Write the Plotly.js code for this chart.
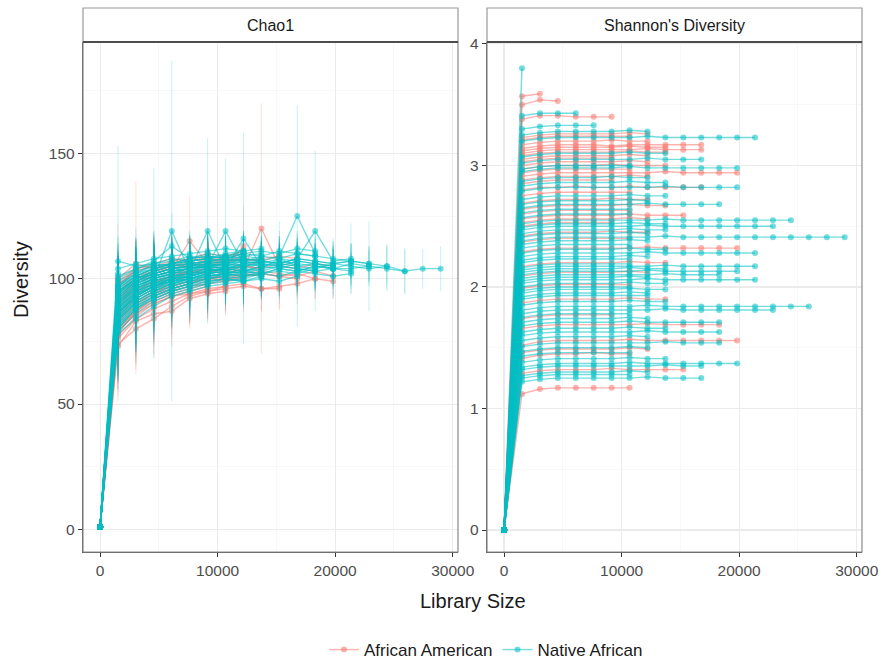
<!DOCTYPE html>
<html><head><meta charset="utf-8">
<script src="https://cdn.plot.ly/plotly-3.0.1.min.js"></script>
<style>html,body{margin:0;padding:0;background:#fff}#chart{width:882px;height:661px}</style>
</head><body><div id="chart"></div>
<script>
// Rarefaction depths (library size)
const depths = [1, 1526, 3051, 4576, 6101, 7626, 9151, 10676, 12201, 13726, 15251, 16776, 18301, 19826, 21351, 22876, 24401, 25926, 27451, 28976];
const shannonAtDepth1 = 0;
const chao1AtDepth1 = 1;
const groupNames = ['African American', 'Native African'];
const panelTitles = ['Chao1', "Shannon's Diversity"];

// 0 = African American, 1 = Native African
const sampleGroup = [
  0,0,0,0,0,0,0,0,0,0,0,0,0,0,0,0,0,0,0,0,
  0,0,0,0,0,0,0,0,0,0,0,0,0,0,0,0,0,0,0,0,
  1,1,1,1,1,1,1,1,1,1,1,1,1,1,1,1,1,1,1,1,
  1,1,1,1,1,1,1,1,1,1,1,1,1,1,1,1,1,1,1,1,
  1,1,1,1,1,1,1,1,1,1,1,1,1,1,1,1,1,1,1
];

const shannon = [
  [3.57,3.59],
  [3.50,3.54,3.53],
  [3.38,3.41,3.41,3.40,3.40,3.40],
  [3.14,3.16,3.17,3.17,3.17,3.16,3.17,3.17,3.17,3.17,3.17],
  [3.10,3.12,3.13,3.13,3.13,3.13,3.13,3.14,3.13,3.13,3.13],
  [2.91,2.93,2.94,2.94,2.94,2.94,2.94,2.94,2.95,2.94,2.94,2.94,2.94],
  [2.80,2.82,2.82,2.83,2.82,2.82,2.83,2.82,2.82,2.82,2.82],
  [3.05,3.07,3.08,3.08,3.08,3.08,3.09,3.08],
  [2.97,2.99,3.00,3.00,3.00,3.01,3.00,3.00,3.00],
  [2.56,2.58,2.59,2.59,2.59,2.59,2.60,2.59,2.59,2.59],
  [2.29,2.31,2.32,2.32,2.32,2.32,2.32,2.33,2.32,2.32,2.32,2.32,2.32],
  [2.42,2.44,2.45,2.45,2.45,2.46,2.45,2.45],
  [2.17,2.19,2.20,2.20,2.20,2.20,2.21,2.20,2.20],
  [1.99,2.01,2.02,2.02,2.02,2.02,2.02],
  [1.66,1.68,1.69,1.69,1.69,1.69,1.69,1.70,1.69,1.69,1.69,1.69],
  [1.52,1.55,1.56,1.56,1.56,1.56,1.57,1.56,1.56,1.56,1.56,1.56,1.56],
  [1.41,1.44,1.45,1.45,1.46,1.45,1.45],
  [1.29,1.31,1.32,1.32,1.32,1.33,1.32,1.32,1.32,1.32],
  [1.12,1.16,1.17,1.17,1.17,1.17,1.17],
  [2.69,2.71,2.72,2.72,2.72,2.73,2.72,2.72],
  [2.85,2.87,2.88,2.88,2.88,2.88],
  [1.87,1.89,1.90,1.90,1.90,1.90,1.91,1.90,1.90],
  [3.17,3.19,3.20,3.20,3.20,3.21,3.20,3.20],
  [2.60,2.62,2.63,2.63,2.63,2.63,2.63],
  [3.00,3.02,3.03,3.03,3.03,3.03,3.04,3.03],
  [2.94,2.96,2.97,2.97,2.97,2.97,2.97],
  [3.08,3.10,3.11,3.11,3.11,3.11,3.12,3.11,3.11],
  [2.50,2.52,2.53,2.53,2.53,2.53],
  [3.23,3.25,3.26,3.26,3.26,3.26,3.27,3.26],
  [3.21,3.23,3.24,3.24,3.24,3.24,3.24],
  [3.12,3.14,3.15,3.15,3.15,3.15,3.16,3.15,3.15],
  [3.03,3.05,3.06,3.06,3.06,3.06],
  [2.88,2.90,2.91,2.91,2.91,2.91,2.92,2.91],
  [2.75,2.77,2.78,2.78,2.78,2.78,2.78],
  [2.64,2.66,2.67,2.67,2.67,2.67,2.68,2.67,2.67],
  [2.53,2.55,2.56,2.56,2.56,2.56,2.57,2.56],
  [2.37,2.39,2.40,2.40,2.40,2.40,2.40],
  [2.09,2.11,2.12,2.12,2.12,2.12,2.13,2.12],
  [1.74,1.76,1.77,1.77,1.77,1.77],
  [1.46,1.48,1.49,1.49,1.49,1.49,1.50,1.49],
  // Native African
  [3.80],
  [3.41,3.43,3.43,3.43],
  [3.30,3.32,3.33,3.33,3.33],
  [3.20,3.22,3.23,3.23,3.23,3.23,3.23,3.24,3.23,3.23,3.23,3.23,3.23,3.23],
  [3.02,3.04,3.05,3.05,3.05,3.05,3.05,3.06,3.05,3.05,3.05],
  [2.95,2.97,2.98,2.98,2.98,2.98,2.99,2.98,2.98,2.98,2.98,2.98,2.98],
  [2.79,2.81,2.82,2.82,2.82,2.82,2.82,2.82,2.83,2.82,2.82,2.82,2.82],
  [2.65,2.67,2.68,2.68,2.68,2.68,2.68,2.69,2.68,2.68,2.68,2.68],
  [2.52,2.54,2.55,2.55,2.55,2.55,2.55,2.55,2.56,2.55,2.55,2.55,2.55,2.55,2.55,2.55],
  [2.47,2.49,2.50,2.50,2.50,2.50,2.50,2.51,2.50,2.50,2.50,2.50,2.50,2.50,2.50],
  [2.38,2.40,2.41,2.41,2.41,2.41,2.41,2.41,2.42,2.41,2.41,2.41,2.41,2.41,2.41,2.41,2.41,2.41,2.41],
  [2.25,2.27,2.28,2.28,2.28,2.28,2.28,2.29,2.28,2.28,2.28,2.28,2.28,2.28],
  [2.14,2.16,2.17,2.17,2.17,2.17,2.17,2.17,2.18,2.17,2.17,2.17,2.17,2.17],
  [2.10,2.12,2.13,2.13,2.13,2.13,2.13,2.14,2.13,2.13,2.13,2.13,2.13],
  [2.07,2.09,2.10,2.10,2.10,2.10,2.10,2.10,2.11,2.10,2.10,2.10],
  [2.03,2.05,2.06,2.06,2.06,2.06,2.06,2.07,2.06,2.06,2.06,2.06,2.06,2.06],
  [1.81,1.83,1.84,1.84,1.84,1.84,1.84,1.85,1.84,1.84,1.84,1.84,1.84,1.84,1.84,1.84,1.84],
  [1.78,1.80,1.81,1.81,1.81,1.81,1.81,1.81,1.82,1.81,1.81,1.81,1.81,1.81,1.81],
  [1.68,1.70,1.71,1.71,1.71,1.71,1.72,1.71,1.71,1.71,1.71,1.71],
  [1.60,1.62,1.63,1.63,1.63,1.63,1.63,1.64,1.63,1.63,1.63,1.63],
  [1.51,1.53,1.54,1.54,1.54,1.54,1.54,1.54,1.55,1.54,1.54,1.54],
  [1.34,1.36,1.37,1.37,1.37,1.37,1.38,1.37,1.37,1.37,1.37,1.37,1.37],
  [1.32,1.34,1.35,1.35,1.35,1.35,1.35,1.35,1.36,1.35,1.35],
  [1.22,1.24,1.25,1.25,1.25,1.25,1.25,1.26,1.25,1.25,1.25],
  [2.87,2.89,2.90,2.90,2.90,2.91,2.90,2.90],
  [2.72,2.74,2.75,2.75,2.75,2.75,2.76,2.75,2.75],
  [2.35,2.37,2.38,2.38,2.38,2.38,2.39,2.38],
  [1.95,1.97,1.98,1.98,1.98,1.98,1.99,1.98,1.98],
  [2.32,2.34,2.35,2.35,2.35,2.35,2.35],
  [1.90,1.92,1.93,1.93,1.93,1.93,1.93,1.93],
  [3.07,3.09,3.10,3.10,3.10,3.10,3.11,3.10,3.10],
  [2.57,2.59,2.60,2.60,2.60,2.60,2.60],
  [1.47,1.49,1.50,1.50,1.50,1.50,1.51,1.50],
  [2.44,2.46,2.47,2.47,2.47,2.47,2.48,2.47,2.47],
  [2.20,2.22,2.23,2.23,2.23,2.23,2.23],
  [3.25,3.27,3.28,3.28,3.28,3.28,3.29,3.28],
  [2.97,2.99,3.00,3.00,3.00,3.00,3.00],
  [2.83,2.85,2.86,2.86,2.86,2.86,2.87,2.86,2.86],
  [2.68,2.70,2.71,2.71,2.71,2.71,2.72,2.71],
  [2.61,2.63,2.64,2.64,2.64,2.64,2.64],
  [2.49,2.51,2.52,2.52,2.52,2.52,2.53,2.52,2.52],
  [2.41,2.43,2.44,2.44,2.44,2.44,2.45,2.44],
  [2.28,2.30,2.31,2.31,2.31,2.31,2.32,2.31,2.31],
  [2.22,2.24,2.25,2.25,2.25,2.25,2.26,2.25],
  [2.16,2.18,2.19,2.19,2.19,2.19,2.19],
  [2.12,2.14,2.15,2.15,2.15,2.15,2.16,2.15,2.15],
  [2.05,2.07,2.08,2.08,2.08,2.08,2.09,2.08],
  [2.00,2.02,2.03,2.03,2.03,2.03,2.04,2.03,2.03],
  [1.97,1.99,2.00,2.00,2.00,2.00,2.00],
  [1.92,1.94,1.95,1.95,1.95,1.95,1.96,1.95],
  [1.85,1.87,1.88,1.88,1.88,1.88,1.89,1.88,1.88],
  [1.75,1.77,1.78,1.78,1.78,1.78,1.78],
  [1.71,1.73,1.74,1.74,1.74,1.74,1.75,1.74],
  [1.63,1.65,1.66,1.66,1.66,1.66,1.67,1.66,1.66],
  [1.56,1.58,1.59,1.59,1.59,1.59,1.60,1.59],
  [1.43,1.45,1.46,1.46,1.46,1.46,1.46],
  [1.38,1.40,1.41,1.41,1.41,1.41,1.42,1.41,1.41],
  [1.27,1.29,1.30,1.30,1.30,1.30,1.31,1.30],
  [1.25,1.27,1.28,1.28,1.28,1.28,1.28]
];

const chao1 = [
  [98,103],
  [92,99,101],
  [100,106,104,106,105,107],
  [88,95,99,100,103,102,104,105,104,106,105],
  [95,100,103,104,115,106,107,108,107,109,108],
  [84,92,96,99,101,103,102,104,120,105,104,106,105],
  [78,87,92,95,97,99,100,101,102,101,100],
  [90,97,100,102,103,104,105,113],
  [86,94,98,101,102,104,103,105,104],
  [93,99,102,104,105,106,108,107,108,109],
  [80,88,93,96,98,100,99,101,102,101,102,100,99],
  [96,101,104,105,107,108,107,109],
  [89,96,99,101,103,102,104,103,105],
  [82,90,95,97,99,100,101],
  [74,80,84,89,93,95,96,97,96,97,98,100],
  [85,92,96,98,100,101,100,102,103,102,101,103,101],
  [73,83,86,87,92,94,95],
  [79,86,90,93,94,96,97,98,96,96],
  [76,84,88,91,94,95,97],
  [97,104,106,108,107,109,108,110],
  [91,98,101,103,104,106],
  [83,91,95,97,99,100,101,102,101],
  [99,104,105,107,108,110,109,111],
  [87,94,98,100,102,103,104],
  [94,100,103,105,106,107,108,107],
  [89,96,99,101,103,104,103],
  [91,98,101,103,104,105,106,108,107],
  [80,87,92,95,97,98],
  [97,103,105,106,108,107,109,110],
  [92,99,102,104,105,106,107],
  [85,93,97,100,102,103,104,105,104],
  [88,95,99,101,103,104],
  [94,100,102,104,106,105,107,108],
  [81,89,94,96,98,100,101],
  [90,97,100,102,104,105,106,105,107],
  [86,93,97,99,101,103,102,104],
  [95,101,103,105,106,107,108],
  [83,90,94,97,99,100,102,101],
  [77,85,90,93,95,97],
  [79,87,91,94,96,98,99,100],
  // Native African
  [102],
  [97,102,106,105],
  [107,105,106,108,107],
  [92,98,101,103,104,105,119,106,107,106,108,107,106,107],
  [90,97,100,119,103,104,105,106,105,107,106],
  [88,95,99,101,103,119,104,105,106,105,107,106,105],
  [86,93,97,100,102,103,104,116,105,106,105,106,104],
  [94,100,102,104,105,106,107,108,107,109,125,110],
  [83,91,95,98,100,102,101,103,104,108,105,104,106,105,104,105],
  [95,100,103,105,106,107,108,107,109,108,110,109,108,107,106],
  [87,94,97,99,100,101,102,103,102,104,103,105,104,106,105,104,103,104,104],
  [91,97,100,102,104,105,104,106,107,106,108,119,107,108],
  [80,88,93,96,98,99,100,101,102,101,103,102,101,102],
  [89,95,98,100,101,103,102,104,103,105,104,103,104],
  [96,101,104,106,107,108,109,110,109,111,110,109],
  [84,91,95,98,99,101,102,103,102,104,103,105,104,103],
  [93,99,101,103,104,105,106,105,107,106,108,107,106,107,106,105,103],
  [88,94,97,100,101,103,104,103,105,104,106,105,104,104,105],
  [82,89,93,96,98,100,101,100,102,103,102,104],
  [99,103,105,106,108,109,108,110,111,110,112,111],
  [85,92,96,99,100,102,103,102,104,105,104,103],
  [90,96,99,101,102,104,103,105,106,105,107,106,105],
  [78,84,89,93,95,97,98,99,100,99,101],
  [92,98,101,103,105,104,106,107,106,108,107],
  [101,104,107,113,108,110,109,111],
  [86,93,97,100,101,103,104,103,105],
  [94,99,102,104,105,107,106,108],
  [81,88,92,95,97,98,100,99,101],
  [97,102,104,106,107,108,109],
  [88,95,98,101,102,104,103,105],
  [104,106,108,109,110,111,112,111,112],
  [90,96,100,102,104,105,106],
  [84,90,94,97,99,100,102,101],
  [95,100,103,105,106,107,108,109,108],
  [87,93,97,99,101,102,103],
  [100,104,106,107,109,108,110,111],
  [93,99,102,104,105,106,107],
  [87,94,98,100,102,103,105,104,106],
  [91,97,101,103,104,106,105,107],
  [84,92,96,98,100,102,103],
  [96,101,104,105,107,108,107,109,110],
  [89,96,99,102,103,105,104,106],
  [82,90,94,97,99,101,102,101,103],
  [98,102,105,106,108,109,108,110],
  [86,93,97,100,101,103,104],
  [92,98,101,103,104,106,105,107,108],
  [79,86,91,94,96,98,99,100],
  [94,100,102,104,106,105,107,108,107],
  [88,95,98,101,102,104,103],
  [85,92,96,99,100,102,103,102],
  [90,96,100,102,103,105,104,106,107],
  [83,91,95,98,100,101,102],
  [97,101,104,106,107,108,109,108],
  [81,89,93,96,98,100,101,102,101],
  [93,99,102,104,105,107,106,108],
  [86,93,97,99,101,103,102],
  [91,97,100,103,104,105,106,107,106],
  [80,88,92,95,97,99,100,99],
  [95,100,103,105,106,107,108]
];

const chao1Err = [
  [14,12],
  [16,13,11],
  [22,33,15,13,12,11],
  [15,13,12,11,10,10,9,9,8,8,8],
  [14,12,11,10,18,9,9,8,8,8,7],
  [18,15,13,12,11,10,10,9,50,9,8,8,7],
  [20,16,14,12,11,10,10,9,9,8,8],
  [15,13,12,11,10,9,9,16],
  [17,14,12,11,10,10,9,9,8],
  [14,12,11,10,9,9,8,8,8,7],
  [19,16,13,12,11,10,10,9,9,8,8,8,7],
  [13,12,11,10,9,9,8,8],
  [16,14,12,11,10,10,9,9,8],
  [18,15,13,12,11,10,10],
  [21,18,15,13,12,11,10,10,9,9,8,8],
  [17,14,12,11,10,10,9,9,8,8,8,7,7],
  [22,19,16,14,12,11,10],
  [20,17,15,13,12,11,10,10,9,9],
  [21,18,15,13,12,11,10],
  [13,12,11,10,9,9,8,8],
  [15,13,12,11,10,9],
  [18,15,13,12,11,10,10,9,9],
  [13,12,11,10,9,9,8,8],
  [16,14,12,11,10,10,9],
  [15,13,12,11,10,9,9,8],
  [16,14,12,11,10,10,9],
  [15,13,12,11,10,9,9,8,8],
  [20,17,14,13,12,11],
  [14,12,11,10,9,9,8,8],
  [16,13,12,11,10,9,9],
  [18,15,13,12,11,10,10,9,9],
  [17,14,12,11,10,10],
  [15,13,12,11,10,9,9,8],
  [19,16,14,12,11,10,10],
  [16,14,12,11,10,10,9,9,8],
  [17,15,13,12,11,10,9,9],
  [14,12,11,10,9,9,8],
  [18,16,14,12,11,10,10,9],
  [21,18,15,13,12,11],
  [20,17,15,13,12,11,10,10],
  // Native African
  [15],
  [17,14,38,12],
  [46,15,13,12,11],
  [16,13,12,11,10,10,29,9,8,8,8,7,7,7],
  [17,14,12,68,11,10,10,9,9,8,8],
  [18,15,13,12,11,37,10,9,9,8,8,8,7],
  [19,15,13,12,11,10,10,42,9,8,8,8,7],
  [15,13,12,11,10,9,9,9,8,8,44,8],
  [20,16,14,12,11,10,10,9,9,15,8,8,8,7,7,7],
  [14,12,11,10,9,9,9,8,8,8,8,7,7,7,7],
  [18,15,13,12,11,10,10,9,9,9,8,8,8,8,18,9,9,8,9],
  [16,14,12,11,10,10,9,9,9,8,8,32,8,14],
  [21,17,14,13,12,11,10,10,9,9,8,8,8,8],
  [17,14,12,11,10,10,9,9,9,8,8,8,12],
  [13,12,11,10,9,9,9,8,8,8,7,7],
  [19,16,13,12,11,10,10,9,9,9,8,8,8,7],
  [15,13,12,11,10,9,9,9,8,8,8,7,7,7,7,9,9],
  [17,14,13,11,10,10,9,9,9,8,8,8,7,7,7],
  [20,16,14,12,11,10,10,9,9,8,8,8],
  [13,12,11,10,9,9,8,8,8,7,7,7],
  [19,15,13,12,11,10,10,9,9,8,8,8],
  [16,14,12,11,10,10,9,9,8,8,8,7,7],
  [22,18,15,13,12,11,10,10,9,9,8],
  [15,13,12,11,10,9,9,8,8,8,7],
  [13,12,11,13,9,9,8,8],
  [18,15,13,12,11,10,9,9,9],
  [15,13,12,11,10,9,9,8],
  [20,17,14,12,11,10,10,9,9],
  [14,12,11,10,9,9,8],
  [18,15,13,12,11,10,9,9],
  [12,11,10,10,9,9,8,8,8],
  [17,14,12,11,10,10,9],
  [19,16,14,12,11,10,10,9],
  [14,12,11,10,9,9,9,8,8],
  [18,15,13,12,11,10,9],
  [14,12,11,10,9,9,8,8],
  [15,13,12,11,10,9,9],
  [17,15,13,12,11,10,9,9,8],
  [16,13,12,11,10,9,9,8],
  [18,15,13,12,11,10,10],
  [14,12,11,10,9,9,8,8,8],
  [17,14,12,11,10,10,9,9],
  [19,16,14,12,11,10,10,9,9],
  [13,12,11,10,9,9,8,8],
  [17,15,13,12,11,10,9],
  [15,13,12,11,10,9,9,8,8],
  [20,17,15,13,12,11,10,10],
  [15,13,12,11,10,9,9,8,8],
  [17,14,13,11,10,10,9],
  [18,15,13,12,11,10,10,9],
  [16,14,12,11,10,10,9,9,8],
  [19,16,14,12,11,10,10],
  [14,12,11,10,9,9,8,8],
  [19,16,14,12,11,10,10,9,9],
  [15,13,12,11,10,9,9,8],
  [18,15,13,12,11,10,10],
  [16,14,12,11,10,9,9,9,8],
  [20,17,15,13,12,11,10,10],
  [14,12,11,10,9,9,8]
];

const lineColors = ['rgba(248,118,109,0.55)', 'rgba(0,191,196,0.55)'];
const markerColors = ['rgba(248,118,109,0.55)', 'rgba(0,191,196,0.55)'];
const errColors = ['rgba(248,118,109,0.22)', 'rgba(0,191,196,0.22)'];

const traces = [];
const legendShown = [false, false];
for (let i = 0; i < shannon.length; i++) {
  const g = sampleGroup[i];
  const n = chao1[i].length;
  traces.push({
    type: 'scatter', mode: 'lines+markers', xaxis: 'x', yaxis: 'y',
    x: depths.slice(0, n + 1), y: [chao1AtDepth1].concat(chao1[i]),
    error_y: {type: 'data', array: [0].concat(chao1Err[i]), visible: true, width: 0, thickness: 1, color: errColors[g]},
    line: {color: lineColors[g], width: 1.4},
    marker: {color: markerColors[g], size: 6},
    name: groupNames[g], legendgroup: groupNames[g], showlegend: false, hoverinfo: 'skip'
  });
}
for (let i = 0; i < shannon.length; i++) {
  const g = sampleGroup[i];
  const n = shannon[i].length;
  const show = !legendShown[g];
  legendShown[g] = true;
  traces.push({
    type: 'scatter', mode: 'lines+markers', xaxis: 'x2', yaxis: 'y2',
    x: depths.slice(0, n + 1), y: [shannonAtDepth1].concat(shannon[i]),
    line: {color: lineColors[g], width: 1.4},
    marker: {color: markerColors[g], size: 6},
    name: groupNames[g], legendgroup: groupNames[g], showlegend: show, hoverinfo: 'skip'
  });
}

const W = 882, H = 661;
const px = v => v / W, py = v => 1 - v / H;
const font = 'Liberation Sans, Arial, sans-serif';
const panelTop = 42, panelBottom = 552, stripTop = 8;
const panels = [[83, 458], [487, 862]];

const xAxisBase = {
  range: [-1450, 30450], tickvals: [0, 10000, 20000, 30000], ticktext: ['0', '10000', '20000', '30000'],
  showgrid: true, gridcolor: '#EBEBEB', gridwidth: 1.1, zeroline: false,
  minor: {tickvals: [5000, 15000, 25000], showgrid: true, gridcolor: '#F4F4F4', gridwidth: 0.6, ticks: ''},
  ticks: 'outside', ticklen: 4, tickcolor: '#333333', tickwidth: 1,
  tickfont: {family: font, size: 15.5, color: '#4D4D4D'},
  showline: true, linecolor: '#555555', linewidth: 1.2, mirror: false
};

const layout = {
  width: W, height: H, margin: {l: 0, r: 0, t: 0, b: 0, autoexpand: false},
  paper_bgcolor: '#fff', plot_bgcolor: '#fff',
  showlegend: true,
  xaxis: Object.assign({}, xAxisBase, {domain: [px(panels[0][0]), px(panels[0][1])], anchor: 'y'}),
  xaxis2: Object.assign({}, xAxisBase, {domain: [px(panels[1][0]), px(panels[1][1])], anchor: 'y2'}),
  yaxis: {
    domain: [py(panelBottom), py(panelTop)], anchor: 'x', range: [-9.0, 194.4],
    tickvals: [0, 50, 100, 150], showgrid: true, gridcolor: '#EBEBEB', gridwidth: 1.1, zeroline: false,
    minor: {tickvals: [25, 75, 125, 175], showgrid: true, gridcolor: '#F4F4F4', gridwidth: 0.6, ticks: ''},
    ticks: 'outside', ticklen: 4, tickcolor: '#333333', tickwidth: 1,
    tickfont: {family: font, size: 15.5, color: '#4D4D4D'},
    showline: true, linecolor: '#555555', linewidth: 1.2
  },
  yaxis2: {
    domain: [py(panelBottom), py(panelTop)], anchor: 'x2', range: [-0.181, 4.016],
    tickvals: [0, 1, 2, 3, 4], showgrid: true, gridcolor: '#EBEBEB', gridwidth: 1.1, zeroline: false,
    minor: {tickvals: [0.5, 1.5, 2.5, 3.5], showgrid: true, gridcolor: '#F4F4F4', gridwidth: 0.6, ticks: ''},
    ticks: 'outside', ticklen: 4, tickcolor: '#333333', tickwidth: 1,
    tickfont: {family: font, size: 15.5, color: '#4D4D4D'},
    showline: true, linecolor: '#555555', linewidth: 1.2
  },
  legend: {
    orientation: 'h', x: px(486), xanchor: 'center', y: py(650), yanchor: 'middle',
    font: {family: font, size: 17, color: '#1A1A1A'}, bgcolor: 'rgba(0,0,0,0)', itemwidth: 30
  },
  shapes: [],
  annotations: [
    {text: 'Library Size', xref: 'paper', yref: 'paper', x: px(472.5), y: py(601), xanchor: 'center', yanchor: 'middle', showarrow: false, font: {family: font, size: 20, color: '#1A1A1A'}},
    {text: 'Diversity', xref: 'paper', yref: 'paper', x: px(21), y: py(280), xanchor: 'center', yanchor: 'middle', textangle: -90, showarrow: false, font: {family: font, size: 20, color: '#1A1A1A'}}
  ]
};

panels.forEach((p, k) => {
  layout.shapes.push({type: 'rect', xref: 'paper', yref: 'paper', x0: px(p[0]), x1: px(p[1]), y0: py(panelBottom), y1: py(panelTop), line: {color: '#8A8A8A', width: 1.2}, fillcolor: 'rgba(0,0,0,0)', layer: 'above'});
  layout.shapes.push({type: 'rect', xref: 'paper', yref: 'paper', x0: px(p[0]), x1: px(p[1]), y0: py(panelTop), y1: py(stripTop), line: {color: '#9A9A9A', width: 1.2}, fillcolor: '#FFFFFF', layer: 'above'});
  layout.shapes.push({type: 'line', xref: 'paper', yref: 'paper', x0: px(p[0]), x1: px(p[1]), y0: py(panelTop), y1: py(panelTop), line: {color: '#4D4D4D', width: 2}, layer: 'above'});
  layout.annotations.push({text: panelTitles[k], xref: 'paper', yref: 'paper', x: px((p[0] + p[1]) / 2), y: py((panelTop + stripTop) / 2), xanchor: 'center', yanchor: 'middle', showarrow: false, font: {family: font, size: 16, color: '#1A1A1A'}});
});

Plotly.newPlot('chart', traces, layout, {displayModeBar: false, staticPlot: true});
</script>
</body></html>
